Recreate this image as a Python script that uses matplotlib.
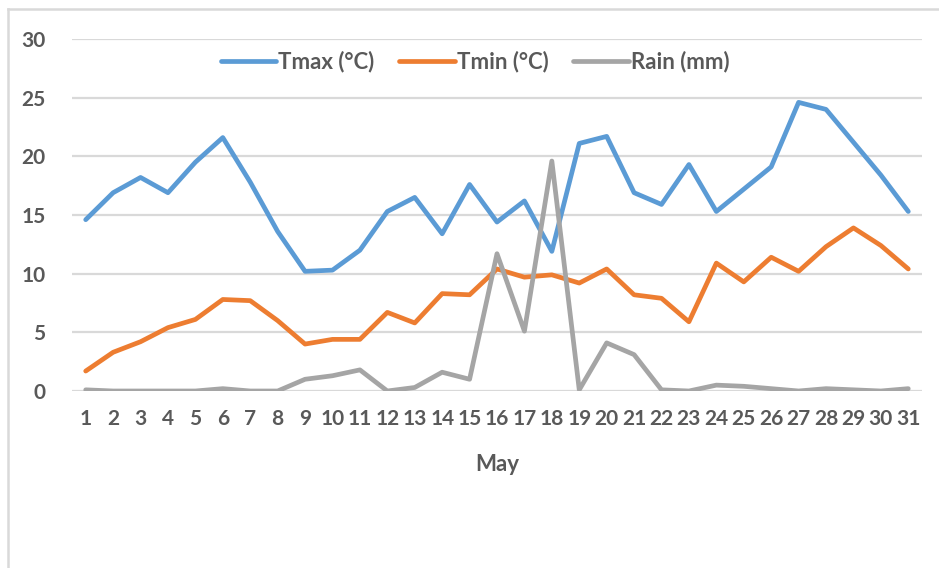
import matplotlib
matplotlib.use("Agg")
import matplotlib.pyplot as plt
from matplotlib.lines import Line2D

days = list(range(1, 32))
tmax = [14.6, 16.9, 18.2, 16.9, 19.5, 21.6, 17.8, 13.6, 10.2, 10.3, 12.0, 15.3, 16.5, 13.4, 17.6,
        14.4, 16.2, 11.9, 21.1, 21.7, 16.9, 15.9, 19.3, 15.3, 17.2, 19.1, 24.6, 24.0, 21.2, 18.4, 15.3]
tmin = [1.7, 3.3, 4.2, 5.4, 6.1, 7.8, 7.7, 6.0, 4.0, 4.4, 4.4, 6.7, 5.8, 8.3, 8.2,
        10.4, 9.7, 9.9, 9.2, 10.4, 8.2, 7.9, 5.9, 10.9, 9.3, 11.4, 10.2, 12.3, 13.9, 12.4, 10.4]
rain = [0.1, 0.0, 0.0, 0.0, 0.0, 0.2, 0.0, 0.0, 1.0, 1.3, 1.8, 0.0, 0.3, 1.6, 1.0,
        11.7, 5.1, 19.6, 0.1, 4.1, 3.1, 0.1, 0.0, 0.5, 0.4, 0.2, 0.0, 0.2, 0.1, 0.0, 0.2]
series_names = ["Tmax (°C)", "Tmin (°C)", "Rain (mm)"]
yticks = [0, 5, 10, 15, 20, 25, 30]
xlabel = "May"

colors = ["#5B9BD5", "#ED7D31", "#A5A5A5"]
txt = "#595959"
grid = "#D9D9D9"
font = "Lato"

W, H = 939, 568
fig = plt.figure(figsize=(W / 100, H / 100), dpi=100)
ax = fig.add_axes([72 / W, 1 - 391 / H, (922 - 72) / W, (391 - 39) / H])

for vals, c, name in zip([tmax, tmin, rain], colors, series_names):
    ax.plot(days, vals, color=c, lw=3.4, solid_joinstyle="round", solid_capstyle="round", label=name, zorder=3)

ax.set_xlim(0.5, 31.5)
ax.set_ylim(0, 30)
ax.set_yticks(yticks)
ax.set_xticks(days)
ax.set_xticklabels([str(d) for d in days])
ax.yaxis.grid(True, color=grid, lw=1.6)
ax.set_axisbelow(True)
for s in ax.spines.values():
    s.set_visible(False)
ax.tick_params(axis="both", length=0, labelcolor=txt, labelsize=15)
ax.tick_params(axis="y", pad=19)
ax.tick_params(axis="x", pad=13)
for lab in ax.get_xticklabels() + ax.get_yticklabels():
    lab.set_fontfamily(font)
    lab.set_fontweight("bold")
ax.set_xlabel(xlabel, fontsize=16, fontweight="bold", color=txt, fontfamily=font, labelpad=18)

handles = [Line2D([0], [0], color=c, lw=3.4, solid_capstyle="round") for c in colors]
leg = fig.legend(handles, series_names, loc="center", bbox_to_anchor=(475 / W, 1 - 62 / H),
                 ncol=3, frameon=False, handlelength=2.5, handletextpad=0.1, columnspacing=1.1,
                 prop={"family": font, "weight": "bold", "size": 16})
for t in leg.get_texts():
    t.set_color(txt)

# chart-area border (cropped at right/bottom)
fig.add_artist(Line2D([8 / W, 1], [1 - 9 / H, 1 - 9 / H], color=grid, lw=1.8, transform=fig.transFigure))
fig.add_artist(Line2D([8 / W, 8 / W], [1 - 9 / H, 0], color=grid, lw=1.8, transform=fig.transFigure))

fig.savefig("out.png", dpi=100)
